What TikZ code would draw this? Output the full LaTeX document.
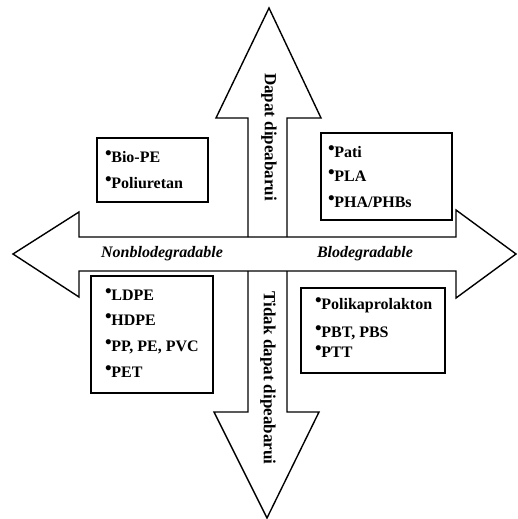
\documentclass[tikz,border=0pt]{standalone}
\usepackage{fontspec}
\setmainfont{Liberation Serif}
\newcommand\bul{\raisebox{2.5pt}{\fontsize{19}{19}\selectfont •}\hspace{-0.5pt}}
\begin{document}
\begin{tikzpicture}[x=1pt,y=-1pt,
  outline/.style={draw=black,line width=1.4pt,line join=miter,fill=white},
  itembox/.style={draw=black,line width=1.4pt},
  item/.style={anchor=base west,inner sep=0pt,font=\fontsize{16}{19}\selectfont\bfseries},
  axislabel/.style={inner sep=0pt,font=\fontsize{16}{19}\selectfont\bfseries\itshape},
  vlabel/.style={inner sep=0pt,rotate=-90,font=\fontsize{17}{20}\selectfont\bfseries}]
\useasboundingbox (0,0) rectangle (517,519);
% up arrow
\coordinate (ua) at (248,237);
\coordinate (ub) at (287,237);
\draw[outline] (ua) -- (248,118) -- (216,118) -- (269,8) -- (321,118) -- (287,118) -- (ub);
% down arrow
\coordinate (da) at (248,271);
\coordinate (db) at (287,271);
\draw[outline] (da) -- (248,412) -- (214,412) -- (267,518) -- (319,412) -- (287,412) -- (db);
% horizontal double arrow
\draw[draw=black,line width=1.4pt,line join=miter] (13,254) -- (79,212) -- (79,237) -- (456,237) -- (456,210) -- (516,254)
  -- (456,298) -- (456,271) -- (79,271) -- (79,297) -- cycle;
% boxes
\node[itembox,minimum width=111pt,minimum height=64pt,inner sep=0pt] (tl) at (152.5,170) {};
\node[itembox,minimum width=131pt,minimum height=87pt,inner sep=0pt] (tr) at (386.5,176.5) {};
\node[itembox,minimum width=122pt,minimum height=117pt,inner sep=0pt] (bl) at (152,334.5) {};
\node[itembox,minimum width=144pt,minimum height=85pt,inner sep=0pt] (br) at (373,330.5) {};
% items
\node[item] (t1) at (105,162) {\bul Bio-PE};
\node[item] (t2) at (105,188) {\bul Poliuretan};
\node[item] (r1) at (328,157) {\bul Pati};
\node[item] (r2) at (328,181) {\bul PLA};
\node[item] (r3) at (328,207) {\bul PHA/PHBs};
\node[item] (b1) at (105,300) {\bul LDPE};
\node[item] (b2) at (105,325) {\bul HDPE};
\node[item] (b3) at (105,351) {\bul PP, PE, PVC};
\node[item] (b4) at (105,377) {\bul PET};
\node[item] (s1) at (315,309) {\bul Polikaprolakton};
\node[item] (s2) at (315,337) {\bul PBT, PBS};
\node[item] (s3) at (315,357) {\bul PTT};
% labels
\node[axislabel] (nb) at (162,254) {Nonblodegradable};
\node[axislabel] (bd) at (365,254) {Blodegradable};
\node[vlabel] (up) at (269,137) {Dapat dipeabarui};
\node[vlabel] (dn) at (268,378) {Tidak dapat dipeabarui};
\end{tikzpicture}
\end{document}
